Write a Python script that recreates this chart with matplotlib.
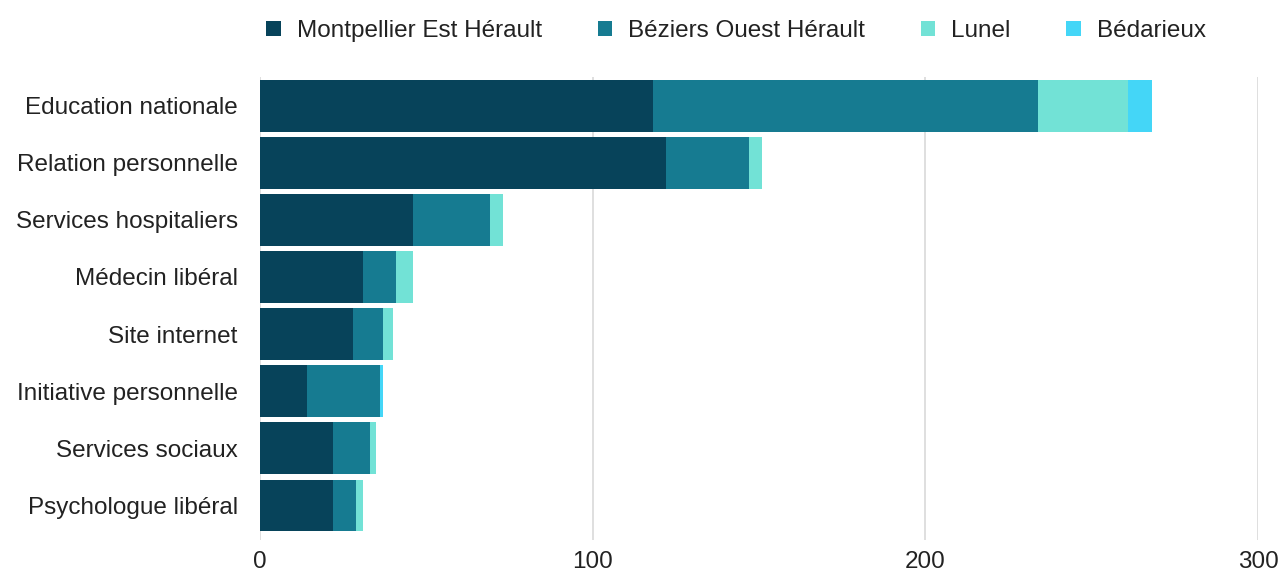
import matplotlib
matplotlib.use("Agg")
import matplotlib.pyplot as plt
import numpy as np

categories = ["Education nationale", "Relation personnelle", "Services hospitaliers",
              "Médecin libéral", "Site internet", "Initiative personnelle",
              "Services sociaux", "Psychologue libéral"]
series_names = ["Montpellier Est Hérault", "Béziers Ouest Hérault", "Lunel", "Bédarieux"]
montpellier = [118, 122, 46, 31, 28, 14, 22, 22]
beziers = [116, 25, 23, 10, 9, 22, 11, 7]
lunel = [27, 4, 4, 5, 3, 0, 2, 2]
bedarieux = [7, 0, 0, 0, 0, 1, 0, 0]
colors = ["#07435a", "#167b91", "#72e2d6", "#44d6f7"]
xticks = [0, 100, 200, 300]

plt.rcParams["font.family"] = ["Liberation Sans", "DejaVu Sans"]

fig = plt.figure(figsize=(12.8, 5.73), dpi=100)
ax = fig.add_axes([260/1280, 1-540/573, 998/1280, (540-77.3)/573])

y = np.arange(len(categories))
left = np.zeros(len(categories))
for vals, name, c in zip([montpellier, beziers, lunel, bedarieux], series_names, colors):
    ax.barh(y, vals, left=left, height=0.9, color=c, label=name, zorder=3)
    left += np.array(vals)

ax.set_xlim(0, 300)
ax.set_ylim(len(categories)-1+0.61, -0.5)
ax.set_yticks(y)
ax.set_yticklabels(categories, fontsize=17.5, color="#222222")
ax.set_xticks(xticks)
ax.set_xticklabels([str(t) for t in xticks], fontsize=17.5, color="#222222")
ax.tick_params(axis="both", length=0)
ax.tick_params(axis="x", pad=8)
ax.tick_params(axis="y", pad=16)
for s in ax.spines.values():
    s.set_visible(False)
ax.grid(axis="x", color="#d9d9d9", linewidth=1.2, zorder=0)
ax.set_axisbelow(True)

leg = fig.legend(loc="center", bbox_to_anchor=(736/1280, 1-31/573), ncol=4, frameon=False,
                 fontsize=17.5, handlelength=0.6, handleheight=0.6, columnspacing=2.3,
                 handletextpad=0.65, labelcolor="#222222", borderpad=0)
fig.savefig("out.png", dpi=100, facecolor="white")
